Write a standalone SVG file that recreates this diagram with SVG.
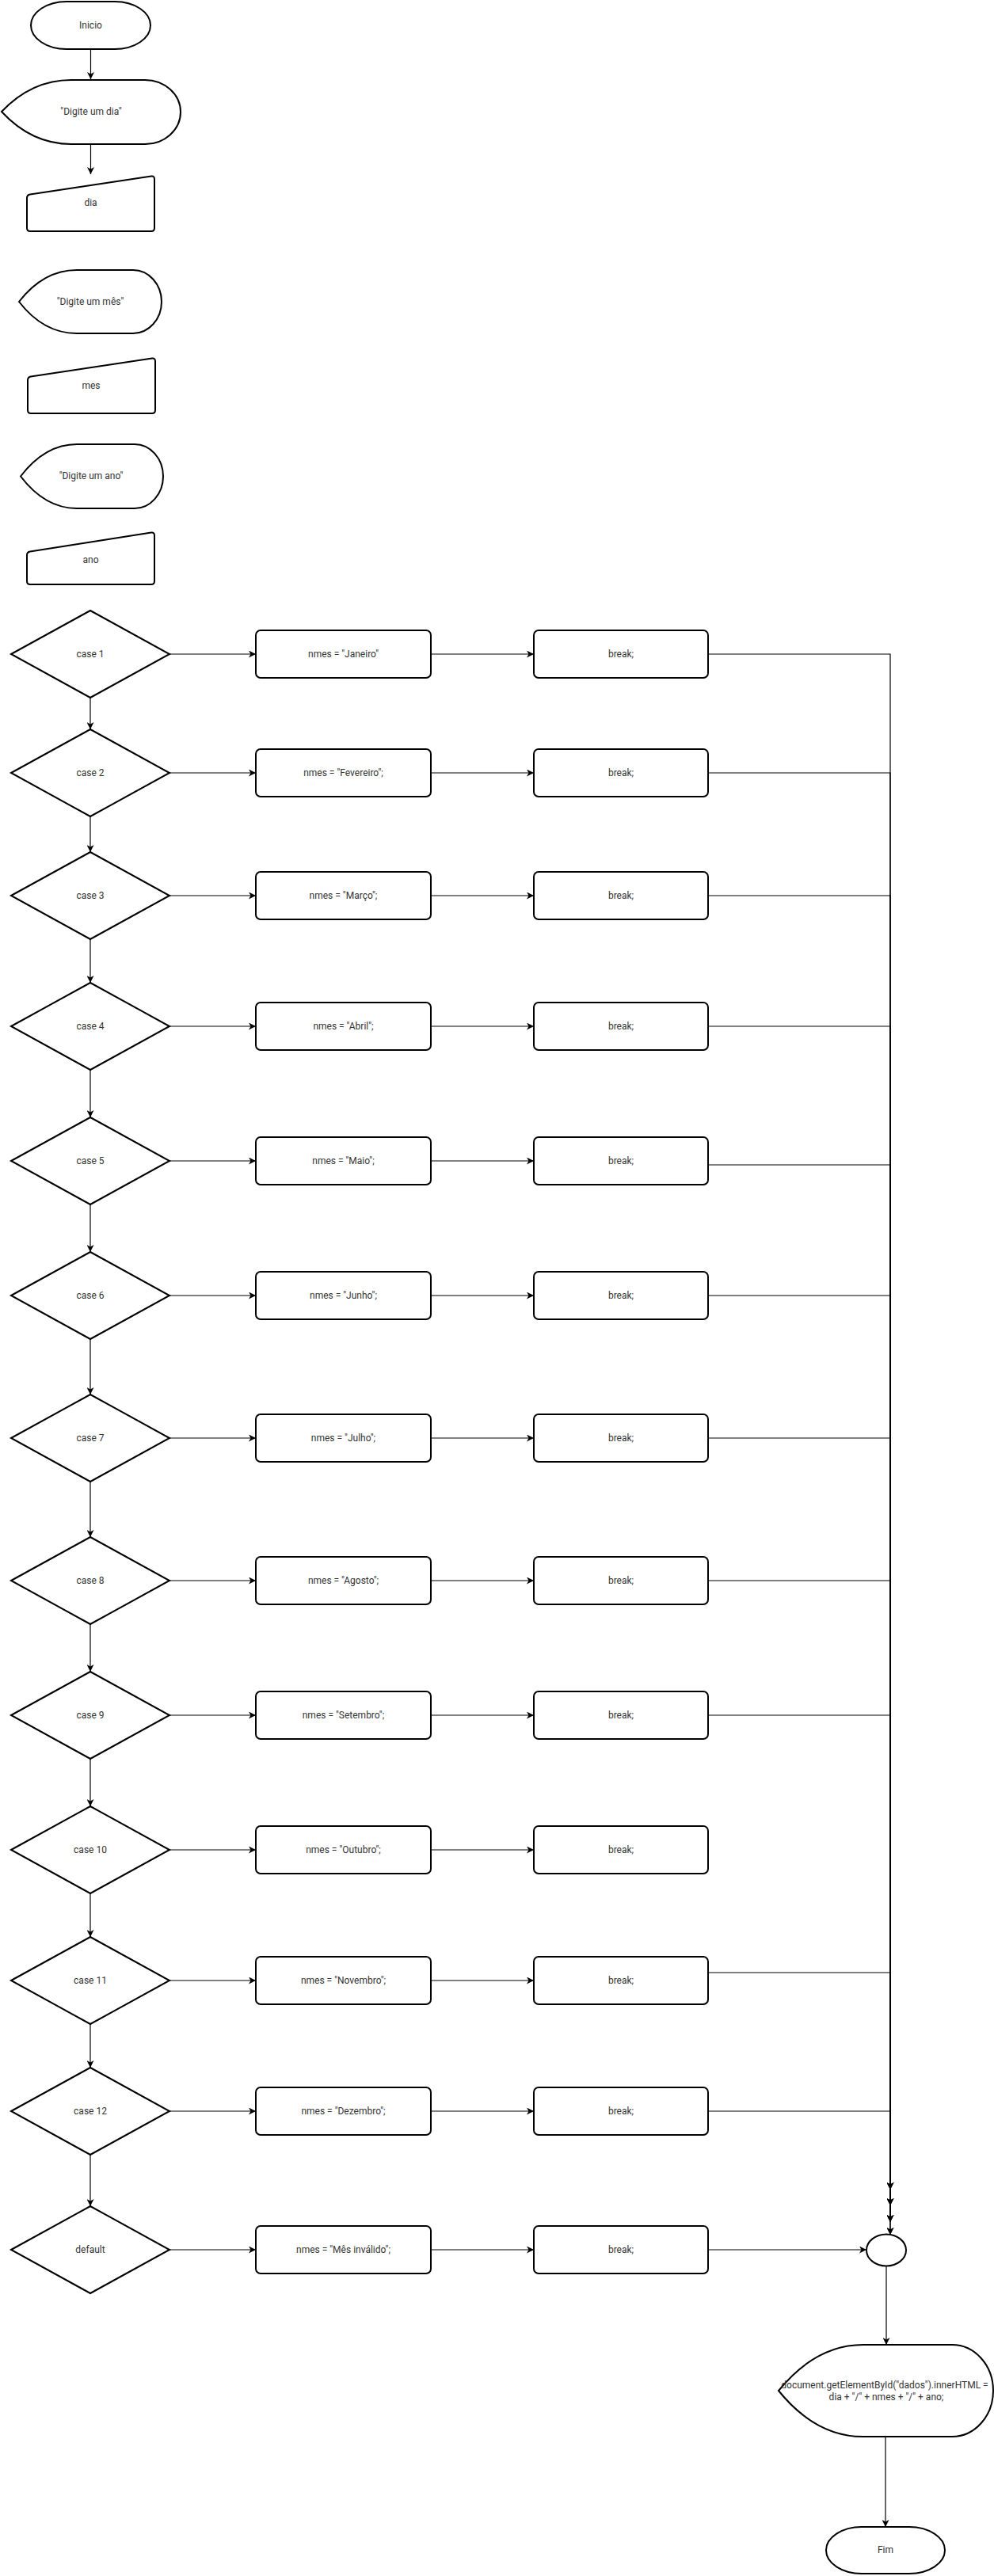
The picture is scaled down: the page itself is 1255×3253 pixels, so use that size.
<svg xmlns="http://www.w3.org/2000/svg" width="1255" height="3253" viewBox="0 0 1255 3253">
<style>
.s{fill:#fff;stroke:#000;stroke-width:2}
.c{fill:none;stroke:#000;stroke-width:1.2}
.t{font-family:Roboto,"Liberation Sans",sans-serif;font-size:12px;fill:#333;text-anchor:middle}
</style>
<defs>
<marker id="a" markerUnits="userSpaceOnUse" markerWidth="10" markerHeight="9" refX="9" refY="4.5" orient="auto">
<path d="M0,0 L9,4.5 L0,9 L2.5,4.5 Z" fill="#000"/>
</marker>
</defs>
<rect width="1255" height="3253" fill="#fff"/>

<g id="connectors">
<path class="c" d="M114.5,62 V100" marker-end="url(#a)"/>
<path class="c" d="M114.5,182 V220" marker-end="url(#a)"/>
<path class="c" d="M114,881 V921" marker-end="url(#a)"/>
<path class="c" d="M114,1031 V1076" marker-end="url(#a)"/>
<path class="c" d="M114,1186 V1241" marker-end="url(#a)"/>
<path class="c" d="M114,1351 V1411" marker-end="url(#a)"/>
<path class="c" d="M114,1521 V1581" marker-end="url(#a)"/>
<path class="c" d="M114,1691 V1761" marker-end="url(#a)"/>
<path class="c" d="M114,1871 V1941" marker-end="url(#a)"/>
<path class="c" d="M114,2051 V2111" marker-end="url(#a)"/>
<path class="c" d="M114,2221 V2281" marker-end="url(#a)"/>
<path class="c" d="M114,2391 V2446" marker-end="url(#a)"/>
<path class="c" d="M114,2556 V2611" marker-end="url(#a)"/>
<path class="c" d="M114,2721 V2786" marker-end="url(#a)"/>

<path class="c" d="M214,826 H323" marker-end="url(#a)"/>
<path class="c" d="M544,826 H674" marker-end="url(#a)"/>
<path class="c" d="M214,976 H323" marker-end="url(#a)"/>
<path class="c" d="M544,976 H674" marker-end="url(#a)"/>
<path class="c" d="M214,1131 H323" marker-end="url(#a)"/>
<path class="c" d="M544,1131 H674" marker-end="url(#a)"/>
<path class="c" d="M214,1296 H323" marker-end="url(#a)"/>
<path class="c" d="M544,1296 H674" marker-end="url(#a)"/>
<path class="c" d="M214,1466 H323" marker-end="url(#a)"/>
<path class="c" d="M544,1466 H674" marker-end="url(#a)"/>
<path class="c" d="M214,1636 H323" marker-end="url(#a)"/>
<path class="c" d="M544,1636 H674" marker-end="url(#a)"/>
<path class="c" d="M214,1816 H323" marker-end="url(#a)"/>
<path class="c" d="M544,1816 H674" marker-end="url(#a)"/>
<path class="c" d="M214,1996 H323" marker-end="url(#a)"/>
<path class="c" d="M544,1996 H674" marker-end="url(#a)"/>
<path class="c" d="M214,2166 H323" marker-end="url(#a)"/>
<path class="c" d="M544,2166 H674" marker-end="url(#a)"/>
<path class="c" d="M214,2336 H323" marker-end="url(#a)"/>
<path class="c" d="M544,2336 H674" marker-end="url(#a)"/>
<path class="c" d="M214,2501 H323" marker-end="url(#a)"/>
<path class="c" d="M544,2501 H674" marker-end="url(#a)"/>
<path class="c" d="M214,2666 H323" marker-end="url(#a)"/>
<path class="c" d="M544,2666 H674" marker-end="url(#a)"/>
<path class="c" d="M214,2841 H323" marker-end="url(#a)"/>
<path class="c" d="M544,2841 H674" marker-end="url(#a)"/>

<path class="c" d="M894,826 H1124 V2765" marker-end="url(#a)"/>
<path class="c" d="M894,976 H1124 V2765" marker-end="url(#a)"/>
<path class="c" d="M894,1131 H1124 V2765" marker-end="url(#a)"/>
<path class="c" d="M894,1296 H1124 V2785" marker-end="url(#a)"/>
<path class="c" d="M894,1471 H1124 V2785" marker-end="url(#a)"/>
<path class="c" d="M894,1636 H1124 V2785" marker-end="url(#a)"/>
<path class="c" d="M894,1816 H1124 V2806" marker-end="url(#a)"/>
<path class="c" d="M894,1996 H1124 V2806" marker-end="url(#a)"/>
<path class="c" d="M894,2166 H1124 V2806" marker-end="url(#a)"/>
<path class="c" d="M894,2491 H1124 V2822" marker-end="url(#a)"/>
<path class="c" d="M894,2666 H1124 V2822" marker-end="url(#a)"/>
<path class="c" d="M894,2841 H1094" marker-end="url(#a)"/>
<path class="c" d="M1119,2862 V2961" marker-end="url(#a)"/>
<path class="c" d="M1118,3077 V3191" marker-end="url(#a)"/>
</g>

<g id="inicio"><rect class="s" x="39" y="2" width="151" height="60" rx="45" ry="30"/><text class="t" x="114.5" y="36">Inicio</text></g>

<g id="out-dia"><path class="s" d="M2,141 Q40,101 90,101 L183,101 A45,40.5 0 0 1 228,141.5 A45,40.5 0 0 1 183,182 L90,182 Q40,182 2,141 Z"/><text class="t" x="115" y="145">"Digite um dia"</text></g>
<g id="in-dia"><path class="s" d="M34,250 Q34,246 38,245.4 L191,222.6 Q195,222 195,226 L195,288 Q195,292 191,292 L38,292 Q34,292 34,288 Z"/><text class="t" x="114.5" y="260">dia</text></g>

<g id="out-mes"><path class="s" d="M24,381 Q55,341 97,341 L168,341 A36,40 0 0 1 204,381 A36,40 0 0 1 168,421 L97,421 Q55,421 24,381 Z"/><text class="t" x="114" y="385">"Digite um mês"</text></g>
<g id="in-mes"><path class="s" d="M35,480 Q35,476 39,475.4 L192,452.6 Q196,452 196,456 L196,518 Q196,522 192,522 L39,522 Q35,522 35,518 Z"/><text class="t" x="115" y="491">mes</text></g>

<g id="out-ano"><path class="s" d="M26,601.5 Q57,561 97,561 L170,561 A36,40.5 0 0 1 206,601.5 A36,40.5 0 0 1 170,642 L97,642 Q57,642 26,601.5 Z"/><text class="t" x="115" y="605">"Digite um ano"</text></g>
<g id="in-ano"><path class="s" d="M34,701 Q34,697 38,696.4 L191,672.6 Q195,672 195,676 L195,734 Q195,738 191,738 L38,738 Q34,738 34,734 Z"/><text class="t" x="114.5" y="711">ano</text></g>

<g id="case1"><polygon class="s" points="14,826 114,771 214,826 114,881"/><text class="t" x="114" y="830">case 1</text></g>
<g id="nmes1"><rect class="s" x="323" y="796" width="221" height="60" rx="6"/><text class="t" x="433.5" y="830">nmes = "Janeiro"</text></g>
<g id="break1"><rect class="s" x="674" y="796" width="220" height="60" rx="6"/><text class="t" x="784" y="830">break;</text></g>

<g id="case2"><polygon class="s" points="14,976 114,921 214,976 114,1031"/><text class="t" x="114" y="980">case 2</text></g>
<g id="nmes2"><rect class="s" x="323" y="946" width="221" height="60" rx="6"/><text class="t" x="433.5" y="980">nmes = "Fevereiro";</text></g>
<g id="break2"><rect class="s" x="674" y="946" width="220" height="60" rx="6"/><text class="t" x="784" y="980">break;</text></g>

<g id="case3"><polygon class="s" points="14,1131 114,1076 214,1131 114,1186"/><text class="t" x="114" y="1135">case 3</text></g>
<g id="nmes3"><rect class="s" x="323" y="1101" width="221" height="60" rx="6"/><text class="t" x="433.5" y="1135">nmes = "Março";</text></g>
<g id="break3"><rect class="s" x="674" y="1101" width="220" height="60" rx="6"/><text class="t" x="784" y="1135">break;</text></g>

<g id="case4"><polygon class="s" points="14,1296 114,1241 214,1296 114,1351"/><text class="t" x="114" y="1300">case 4</text></g>
<g id="nmes4"><rect class="s" x="323" y="1266" width="221" height="60" rx="6"/><text class="t" x="433.5" y="1300">nmes = "Abril";</text></g>
<g id="break4"><rect class="s" x="674" y="1266" width="220" height="60" rx="6"/><text class="t" x="784" y="1300">break;</text></g>

<g id="case5"><polygon class="s" points="14,1466 114,1411 214,1466 114,1521"/><text class="t" x="114" y="1470">case 5</text></g>
<g id="nmes5"><rect class="s" x="323" y="1436" width="221" height="60" rx="6"/><text class="t" x="433.5" y="1470">nmes = "Maio";</text></g>
<g id="break5"><rect class="s" x="674" y="1436" width="220" height="60" rx="6"/><text class="t" x="784" y="1470">break;</text></g>

<g id="case6"><polygon class="s" points="14,1636 114,1581 214,1636 114,1691"/><text class="t" x="114" y="1640">case 6</text></g>
<g id="nmes6"><rect class="s" x="323" y="1606" width="221" height="60" rx="6"/><text class="t" x="433.5" y="1640">nmes = "Junho";</text></g>
<g id="break6"><rect class="s" x="674" y="1606" width="220" height="60" rx="6"/><text class="t" x="784" y="1640">break;</text></g>

<g id="case7"><polygon class="s" points="14,1816 114,1761 214,1816 114,1871"/><text class="t" x="114" y="1820">case 7</text></g>
<g id="nmes7"><rect class="s" x="323" y="1786" width="221" height="60" rx="6"/><text class="t" x="433.5" y="1820">nmes = "Julho";</text></g>
<g id="break7"><rect class="s" x="674" y="1786" width="220" height="60" rx="6"/><text class="t" x="784" y="1820">break;</text></g>

<g id="case8"><polygon class="s" points="14,1996 114,1941 214,1996 114,2051"/><text class="t" x="114" y="2000">case 8</text></g>
<g id="nmes8"><rect class="s" x="323" y="1966" width="221" height="60" rx="6"/><text class="t" x="433.5" y="2000">nmes = "Agosto";</text></g>
<g id="break8"><rect class="s" x="674" y="1966" width="220" height="60" rx="6"/><text class="t" x="784" y="2000">break;</text></g>

<g id="case9"><polygon class="s" points="14,2166 114,2111 214,2166 114,2221"/><text class="t" x="114" y="2170">case 9</text></g>
<g id="nmes9"><rect class="s" x="323" y="2136" width="221" height="60" rx="6"/><text class="t" x="433.5" y="2170">nmes = "Setembro";</text></g>
<g id="break9"><rect class="s" x="674" y="2136" width="220" height="60" rx="6"/><text class="t" x="784" y="2170">break;</text></g>

<g id="case10"><polygon class="s" points="14,2336 114,2281 214,2336 114,2391"/><text class="t" x="114" y="2340">case 10</text></g>
<g id="nmes10"><rect class="s" x="323" y="2306" width="221" height="60" rx="6"/><text class="t" x="433.5" y="2340">nmes = "Outubro";</text></g>
<g id="break10"><rect class="s" x="674" y="2306" width="220" height="60" rx="6"/><text class="t" x="784" y="2340">break;</text></g>

<g id="case11"><polygon class="s" points="14,2501 114,2446 214,2501 114,2556"/><text class="t" x="114" y="2505">case 11</text></g>
<g id="nmes11"><rect class="s" x="323" y="2471" width="221" height="60" rx="6"/><text class="t" x="433.5" y="2505">nmes = "Novembro";</text></g>
<g id="break11"><rect class="s" x="674" y="2471" width="220" height="60" rx="6"/><text class="t" x="784" y="2505">break;</text></g>

<g id="case12"><polygon class="s" points="14,2666 114,2611 214,2666 114,2721"/><text class="t" x="114" y="2670">case 12</text></g>
<g id="nmes12"><rect class="s" x="323" y="2636" width="221" height="60" rx="6"/><text class="t" x="433.5" y="2670">nmes = "Dezembro";</text></g>
<g id="break12"><rect class="s" x="674" y="2636" width="220" height="60" rx="6"/><text class="t" x="784" y="2670">break;</text></g>

<g id="default"><polygon class="s" points="14,2841 114,2786 214,2841 114,2896"/><text class="t" x="114" y="2845">default</text></g>
<g id="nmes13"><rect class="s" x="323" y="2811" width="221" height="60" rx="6"/><text class="t" x="433.5" y="2845">nmes = "Mês inválido";</text></g>
<g id="break13"><rect class="s" x="674" y="2811" width="220" height="60" rx="6"/><text class="t" x="784" y="2845">break;</text></g>

<g id="merge"><ellipse class="s" cx="1119" cy="2841.5" rx="25" ry="20"/></g>

<g id="out-data"><path class="s" d="M983,3019 Q1030,2961 1090,2961 L1202,2961 A52,58 0 0 1 1254,3019 A52,58 0 0 1 1202,3077 L1090,3077 Q1030,3077 983,3019 Z"/><text class="t" x="1117" y="3016">document.getElementById("dados").innerHTML =</text><text class="t" x="1119" y="3031">dia + "/" + nmes + "/" + ano;</text></g>

<g id="fim"><rect class="s" x="1043" y="3191" width="150" height="59" rx="45" ry="29.5"/><text class="t" x="1118" y="3224">Fim</text></g>
</svg>
